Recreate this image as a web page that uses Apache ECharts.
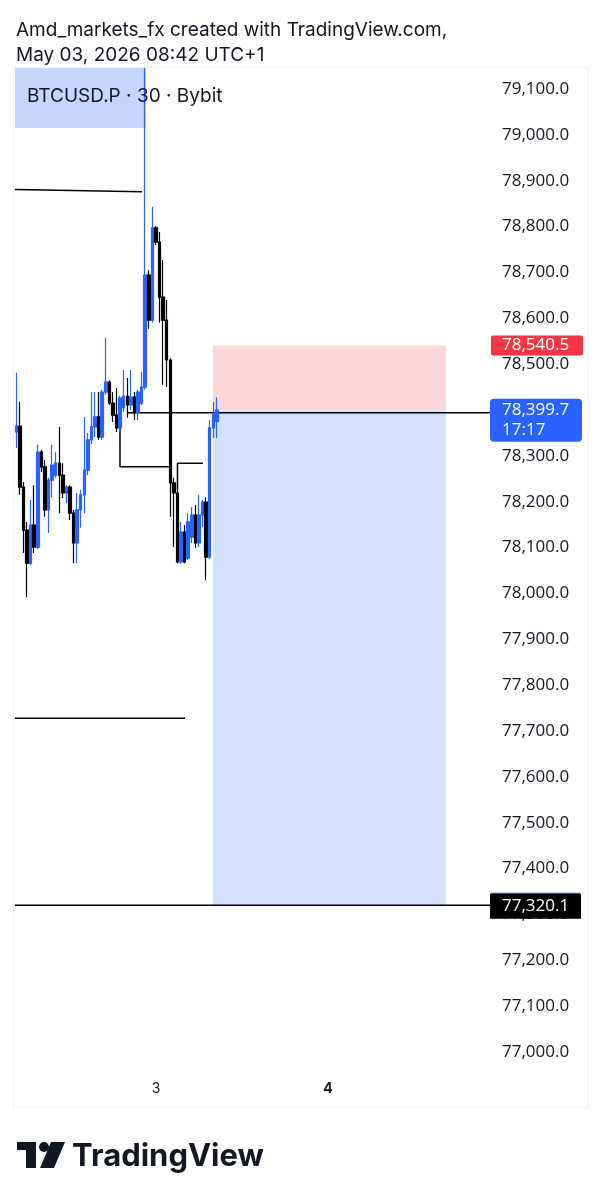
<!DOCTYPE html>
<html><head><meta charset="utf-8">
<script src="https://cdn.jsdelivr.net/npm/echarts@6/dist/echarts.min.js"></script>
<style>html,body{margin:0;padding:0;background:#fff}#c{width:603px;height:1200px}</style>
</head><body><div id="c"></div>
<script>
// 30-minute bars, index counted from May 3 00:00 (index 0)
const candleIndex = [-39,-38,-37,-36,-35,-34,-33,-32,-31,-30,-29,-28,-27,-26,-25,-24,-23,-22,-21,-20,-19,-18,-17,-16,-15,-14,-13,-12,-11,-10,-9,-8,-7,-6,-5,-4,-3,-2,-1,0,1,2,3,4,5,6,7,8,9,10,11,12,13,14,15,16,17];
const opens  = [78352,78365,78232,78138,78066,78149,78101,78308,78276,78182,78247,78258,78284,78258,78219,78232,78175,78110,78182,78215,78269,78335,78363,78385,78341,78439,78461,78415,78389,78361,78405,78430,78411,78428,78394,78415,78450,78694,78596,78797,78766,78646,78596,78509,78241,78219,78069,78134,78077,78123,78171,78110,78171,78199,78079,78361,78375];
const closes = [78365,78232,78138,78066,78149,78101,78308,78276,78182,78247,78280,78284,78258,78219,78232,78175,78110,78182,78215,78269,78335,78363,78385,78341,78439,78461,78415,78389,78361,78426,78430,78411,78428,78394,78439,78450,78694,78596,78797,78766,78646,78596,78509,78241,78219,78069,78134,78069,78156,78171,78110,78171,78199,78079,78361,78390,78399.7];
const lows   = [78317,78215,78088,77992,78062,78088,78097,78265,78167,78132,78210,78252,78175,78208,78197,78160,78066,78066,78143,78175,78258,78326,78341,78335,78335,78433,78411,78374,78352,78352,78396,78383,78400,78378,78378,78411,78444,78577,78590,78760,78590,78455,78450,78167,78101,78066,78064,78066,78073,78110,78099,78101,78145,78029,78075,78339,78339];
const highs  = [78481,78418,78243,78156,78204,78236,78324,78313,78291,78252,78324,78308,78363,78284,78236,78236,78182,78219,78226,78385,78350,78439,78439,78439,78444,78557,78465,78439,78448,78431,78487,78470,78487,78439,78444,78483,79146,78705,78843,78801,78788,78727,78640,78513,78252,78226,78156,78149,78175,78188,78193,78215,78204,78210,78378,78418,78428];

// price scale tick labels and day ticks
const priceTicks = [77000,77100,77200,77300,77400,77500,77600,77700,77800,77900,78000,78100,78200,78300,78400,78500,78600,78700,78800,78900,79000,79100];
const dayTicks = [0, 48];
const dayLabels = ['3', '4'];

// drawings: [bar index, price]
const levelHigh  = [[-39.4, 78881], [-3.9, 78876]];
const levelLow   = [[-39.4, 77728], [8.1, 77728]];
const targetLine = [[-39.4, 77320.1], [93.3, 77320.1]];
const entryLine  = [[-7.8, 78394], [93.3, 78394]];
const stepLineA  = [[-10.05, 78361], [-10.05, 78276], [3.6, 78276]];
const stepLineB  = [[6.0, 78226], [6.0, 78284], [13.1, 78284]];

// rectangles: [corner1, corner2]
const headerBox = [[-39.4, 79146], [-2.8, 79015]];
const stopBox   = [[15.9, 78540.5], [80.9, 78399.7]];
const targetBox = [[15.9, 78399.7], [80.9, 77320.1]];

// axis price labels
const stopPrice = 78540.5, lastPrice = 78399.7, targetPrice = 77320.1;
const countdown = '17:17';

const FONT = 'Inter, Roboto, sans-serif';
const AFONT = '"Open Sans", sans-serif';
function fmt(v) {
  const s = Number(v).toFixed(1);
  const [a, b] = s.split('.');
  return a.replace(/\B(?=(\d{3})+(?!\d))/g, ',') + '.' + b;
}

const chart = echarts.init(document.getElementById('c'), null, {renderer: 'canvas'});
const candleData = candleIndex.map((t, k) => [t, opens[k], closes[k], lows[k], highs[k]]);

function lineSeries(data) {
  return {type: 'line', data: data, symbol: 'none', silent: true, z: 4,
    lineStyle: {color: '#000', width: 1.5}, animation: false};
}
const hidden = {color: 'rgba(0,0,0,0)', width: 1, type: 'solid'};
const BLUE = '#2962ff';

const option = {
  animation: false,
  backgroundColor: '#fff',
  title: [
    {left: 11, top: 13, text: 'Amd_markets_fx created with TradingView.com,\nMay 03, 2026 08:42 UTC+1',
     textStyle: {fontFamily: FONT, fontSize: 19, fontWeight: 'normal', color: '#131722', lineHeight: 25}},
    {left: 22, top: 79, text: 'BTCUSD.P · 30 · Bybit', z: 10,
     textStyle: {fontFamily: FONT, fontSize: 19, fontWeight: 'normal', color: '#131722', lineHeight: 24}},
    {left: 67, top: 1134, text: 'TradingView',
     textStyle: {fontFamily: FONT, fontSize: 31, fontWeight: 700, color: '#131722', lineHeight: 36}}
  ],
  grid: {left: 15, right: 113, top: 68, bottom: 128, containLabel: false},
  xAxis: {
    type: 'value', min: -39.35, max: 93.22,
    axisLine: {show: false}, axisTick: {show: false}, splitLine: {show: false},
    axisLabel: {
      customValues: dayTicks, margin: 10, fontFamily: FONT, fontSize: 14, color: '#131722',
      formatter: function (v) { const k = dayTicks.indexOf(v); return k === 1 ? '{b|' + dayLabels[k] + '}' : dayLabels[k]; },
      rich: {b: {fontWeight: 700, fontFamily: FONT, fontSize: 14, color: '#131722'}}
    }
  },
  yAxis: {
    type: 'value', position: 'right', min: 76956.4, max: 79145.8, scale: true,
    axisLine: {show: false}, axisTick: {show: false}, splitLine: {show: false},
    axisLabel: {customValues: priceTicks, formatter: fmt, margin: 12, color: '#131722', fontFamily: AFONT, fontSize: 17}
  },
  graphic: [
    {type: 'rect', shape: {x: 13.5, y: 67.5, width: 575, height: 1040}, style: {fill: 'none', stroke: '#eef0f3', lineWidth: 1}, silent: true, z: -1},
    {type: 'group', left: 17, top: 1142, children: [
      {type: 'rect', shape: {x: 0, y: 0, width: 19, height: 8}, style: {fill: '#131722'}},
      {type: 'rect', shape: {x: 9, y: 0, width: 10, height: 26}, style: {fill: '#131722'}},
      {type: 'circle', shape: {cx: 27, cy: 5, r: 5}, style: {fill: '#131722'}},
      {type: 'polygon', shape: {points: [[34, 0], [48, 0], [37, 26], [23, 26]]}, style: {fill: '#131722'}}
    ]}
  ],
  series: [
    {
      type: 'line', data: [], z: 1, silent: true,
      markArea: {
        silent: true,
        data: [
          [{coord: headerBox[0], itemStyle: {color: '#c5d5fb'}}, {coord: headerBox[1]}],
          [{coord: stopBox[0], itemStyle: {color: '#fbd6da'}}, {coord: stopBox[1]}],
          [{coord: targetBox[0], itemStyle: {color: '#d3dffd'}}, {coord: targetBox[1]}]
        ]
      }
    },
    lineSeries(levelHigh), lineSeries(levelLow), lineSeries(targetLine), lineSeries(entryLine),
    lineSeries(stepLineA), lineSeries(stepLineB),
    {
      type: 'candlestick', z: 5,
      dimensions: ['t', 'open', 'close', 'lowest', 'highest'],
      encode: {x: 't', y: ['open', 'close', 'lowest', 'highest']},
      data: candleData, barWidth: 3, clip: true,
      itemStyle: {color: BLUE, color0: '#000000', borderColor: BLUE, borderColor0: '#000000', borderWidth: 1.2}
    },
    {
      type: 'line', data: [], z: 8, silent: true,
      markLine: {
        silent: true, symbol: 'none', animation: false,
        lineStyle: hidden,
        data: [
          {yAxis: stopPrice, lineStyle: hidden, label: {show: true, position: 'end', distance: 1, formatter: fmt(stopPrice),
            backgroundColor: '#f23645', color: '#fff', fontFamily: AFONT, fontSize: 17, lineHeight: 17, width: 71, padding: [2, 10, 1, 11], borderRadius: 2}},
          {yAxis: lastPrice, lineStyle: hidden, label: {show: true, position: 'end', distance: 1,
            formatter: '{s| }\n{a|' + fmt(lastPrice) + '}\n{b|' + countdown + '}',
            rich: {
              s: {height: 20, lineHeight: 20, fontSize: 1},
              a: {backgroundColor: BLUE, borderColor: BLUE, borderWidth: 1, color: '#fff', fontFamily: AFONT, fontSize: 17, width: 71, height: 21, lineHeight: 21, padding: [0, 8, 0, 11], borderRadius: [3, 3, 0, 0]},
              b: {backgroundColor: BLUE, borderColor: BLUE, borderWidth: 1, color: '#fff', fontFamily: AFONT, fontSize: 17, width: 71, height: 20, lineHeight: 20, padding: [0, 8, 0, 11], borderRadius: [0, 0, 3, 3]}
            }}},
          {yAxis: targetPrice, lineStyle: hidden, label: {show: true, position: 'end', distance: 1,
            formatter: '{t| }\n{a|' + fmt(targetPrice) + '}',
            rich: {
              t: {backgroundColor: BLUE, height: 2, lineHeight: 2, fontSize: 1, width: 71, padding: [0, 7, 0, 11]},
              a: {backgroundColor: '#000', borderColor: '#000', borderWidth: 1, color: '#fff', fontFamily: AFONT, fontSize: 17, width: 71, height: 23, lineHeight: 23, padding: [0, 7, 0, 11]}
            }}}
        ]
      }
    }
  ]
};
chart.setOption(option);
</script></body></html>
